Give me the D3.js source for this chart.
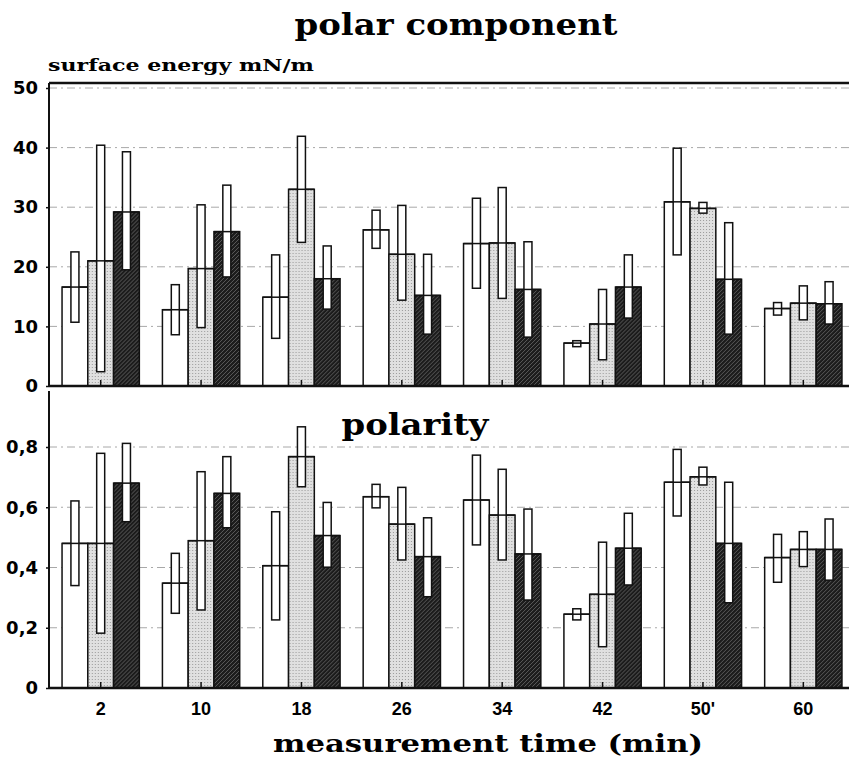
<html>
  <head>
    <style>
      body { margin: 0; background: #fff; }
      .title { font-family: "DejaVu Serif", serif; font-weight: bold; }
    </style>
  </head>
  <body>
    <svg id="chart" width="849" height="757"></svg>
  </body>
  <script src="https://cdn.jsdelivr.net/npm/d3@7"></script>
  <script>
    // measurement times (min)
    let times = ["2", "10", "18", "26", "34", "42", "50'", "60"];
    let series = ["a", "b", "c"];

    // polar component of surface energy (mN/m): mean, upper, lower
    let polarA = [16.6, 12.8, 14.9, 26.2, 23.9, 7.2, 30.9, 13.0];
    let polarAHi = [22.5, 17.0, 22.0, 29.5, 31.5, 7.6, 39.9, 14.0];
    let polarALo = [10.7, 8.6, 8.0, 23.1, 16.4, 6.6, 22.0, 11.9];
    let polarB = [21.0, 19.7, 33.0, 22.1, 24.0, 10.4, 29.8, 13.9];
    let polarBHi = [40.4, 30.4, 41.9, 30.3, 33.3, 16.2, 30.8, 16.8];
    let polarBLo = [2.4, 9.8, 24.1, 14.4, 14.7, 4.4, 29.0, 11.1];
    let polarC = [29.2, 25.9, 18.0, 15.2, 16.2, 16.6, 17.9, 13.8];
    let polarCHi = [39.3, 33.7, 23.5, 22.1, 24.2, 22.0, 27.4, 17.5];
    let polarCLo = [19.5, 18.3, 12.9, 8.7, 8.2, 11.4, 8.7, 10.4];

    // polarity: mean, upper, lower
    let polA = [0.480, 0.348, 0.406, 0.635, 0.624, 0.245, 0.683, 0.433];
    let polAHi = [0.621, 0.447, 0.585, 0.676, 0.773, 0.263, 0.792, 0.510];
    let polALo = [0.340, 0.248, 0.226, 0.598, 0.475, 0.226, 0.571, 0.351];
    let polB = [0.480, 0.489, 0.768, 0.544, 0.574, 0.311, 0.701, 0.460];
    let polBHi = [0.779, 0.718, 0.867, 0.666, 0.726, 0.484, 0.733, 0.519];
    let polBLo = [0.182, 0.259, 0.668, 0.425, 0.425, 0.137, 0.674, 0.403];
    let polC = [0.680, 0.646, 0.506, 0.436, 0.445, 0.464, 0.480, 0.460];
    let polCHi = [0.812, 0.768, 0.616, 0.565, 0.594, 0.580, 0.683, 0.561];
    let polCLo = [0.552, 0.532, 0.401, 0.303, 0.292, 0.342, 0.283, 0.358];

    let topTicks = [0, 10, 20, 30, 40, 50];
    let bottomTicks = [0, 0.2, 0.4, 0.6, 0.8];

    function rows(means, his, los) {
      let out = [];
      times.forEach((t, i) => {
        series.forEach((s, j) => {
          out.push({ time: t, series: s, value: means[j][i], hi: his[j][i], lo: los[j][i] });
        });
      });
      return out;
    }

    let svg = d3.select("#chart");
    let left = 49;

    // fill patterns
    let defs = svg.append("defs");
    let dots = defs.append("pattern").attr("id", "dots")
      .attr("width", 3).attr("height", 3).attr("patternUnits", "userSpaceOnUse");
    dots.append("rect").attr("width", 3).attr("height", 3).attr("fill", "#e0e0e0");
    dots.append("rect").attr("x", 1).attr("y", 1).attr("width", 1).attr("height", 1).attr("fill", "#9a9a9a");

    let hatch = defs.append("pattern").attr("id", "hatch")
      .attr("width", 4).attr("height", 4).attr("patternUnits", "userSpaceOnUse");
    hatch.append("rect").attr("width", 4).attr("height", 4).attr("fill", "#1c1c1c");
    hatch.append("path").attr("d", "M-1,1 L1,-1 M0,4 L4,0 M3,5 L5,3")
      .attr("stroke", "#6a6a6a").attr("stroke-width", 0.8);

    let fills = { a: "#fff", b: "url(#dots)", c: "url(#hatch)" };

    let x = d3.scaleBand().domain(times).range([50, 854])
      .paddingInner(0.23).paddingOuter(0.12);
    let x1 = d3.scaleBand().domain(series).range([0, x.bandwidth()]);

    function panel(y, data, ticks, fmt, y0, showLabels) {
      let g = svg.append("g");

      // dashed grid lines
      g.selectAll(".grid").data(ticks.filter(d => d > 0)).join("line")
        .attr("x1", left).attr("x2", 849)
        .attr("y1", d => y(d)).attr("y2", d => y(d))
        .attr("stroke", "#a8a8a8").attr("stroke-width", 1)
        .attr("stroke-dasharray", "8,4,2,4");

      let bars = g.selectAll(".bar").data(data).join("g")
        .attr("transform", d => `translate(${x(d.time) + x1(d.series)},0)`);
      bars.append("rect")
        .attr("y", d => y(d.value))
        .attr("width", x1.bandwidth())
        .attr("height", d => y(0) - y(d.value))
        .attr("fill", d => fills[d.series])
        .attr("stroke", "#111").attr("stroke-width", 1.5);
      bars.append("rect")
        .attr("x", x1.bandwidth() / 2 - 4)
        .attr("y", d => y(d.hi))
        .attr("width", 8)
        .attr("height", d => y(d.lo) - y(d.hi))
        .attr("fill", "#fff")
        .attr("stroke", "#111").attr("stroke-width", 1.5);
      // bar top drawn over the error box
      bars.append("line")
        .attr("x1", 0).attr("x2", x1.bandwidth())
        .attr("y1", d => y(d.value)).attr("y2", d => y(d.value))
        .attr("stroke", "#111").attr("stroke-width", 1.5);

      // left axis
      let ya = g.append("g")
        .attr("transform", `translate(${left},0)`)
        .call(d3.axisLeft(y).tickValues(ticks).tickFormat(fmt).tickSize(3).tickPadding(8));
      ya.select(".domain").remove();
      ya.selectAll("line").attr("stroke", "#111").attr("stroke-width", 1.5);
      ya.selectAll("text")
        .style("font-family", "'DejaVu Sans', sans-serif")
        .style("font-weight", "bold").style("font-size", "18px");
      g.append("line")
        .attr("x1", left).attr("x2", left)
        .attr("y1", y0).attr("y2", y(0))
        .attr("stroke", "#111").attr("stroke-width", 2);

      // baseline with small inward ticks at group centres
      let xa = g.append("g")
        .attr("transform", `translate(0,${y(0)})`)
        .call(d3.axisBottom(x).tickSize(-6).tickPadding(14));
      xa.select(".domain").remove();
      xa.selectAll("line").attr("stroke", "#111").attr("stroke-width", 1.5);
      xa.selectAll("text")
        .style("font-family", "'Liberation Sans', sans-serif")
        .style("font-weight", "bold").style("font-size", "18px");
      if (!showLabels) xa.selectAll("text").remove();
      g.append("line")
        .attr("x1", left).attr("x2", 849)
        .attr("y1", y(0)).attr("y2", y(0))
        .attr("stroke", "#111").attr("stroke-width", 2.5);
      return g;
    }

    // top panel: polar component
    let yTop = d3.scaleLinear().domain([0, 50]).range([386, 88]);
    panel(yTop, rows([polarA, polarB, polarC], [polarAHi, polarBHi, polarCHi], [polarALo, polarBLo, polarCLo]),
      topTicks, d => d, 83, false);
    svg.append("line")
      .attr("x1", left).attr("x2", 849).attr("y1", 83).attr("y2", 83)
      .attr("stroke", "#111").attr("stroke-width", 2.5);

    // bottom panel: polarity
    let yBot = d3.scaleLinear().domain([0, 1]).range([688, 386.75]);
    panel(yBot, rows([polA, polB, polC], [polAHi, polBHi, polCHi], [polALo, polBLo, polCLo]),
      bottomTicks, d => d === 0 ? "0" : d3.format(".1f")(d).replace(".", ","), 391, true);

    // texts
    svg.append("text").attr("class", "title")
      .attr("x", 456).attr("y", 35).attr("text-anchor", "middle")
      .attr("font-size", 30).attr("textLength", 323).attr("lengthAdjust", "spacingAndGlyphs")
      .text("polar component");
    svg.append("text").attr("class", "title")
      .attr("x", 48).attr("y", 71)
      .attr("font-size", 16).attr("textLength", 266).attr("lengthAdjust", "spacingAndGlyphs")
      .text("surface energy mN/m");
    svg.append("text").attr("class", "title")
      .attr("x", 415).attr("y", 435).attr("text-anchor", "middle")
      .attr("font-size", 30).attr("textLength", 147).attr("lengthAdjust", "spacingAndGlyphs")
      .text("polarity");
    svg.append("text").attr("class", "title")
      .attr("x", 488).attr("y", 752).attr("text-anchor", "middle")
      .attr("font-size", 24).attr("textLength", 430).attr("lengthAdjust", "spacingAndGlyphs")
      .text("measurement time (min)");
  </script>
</html>
